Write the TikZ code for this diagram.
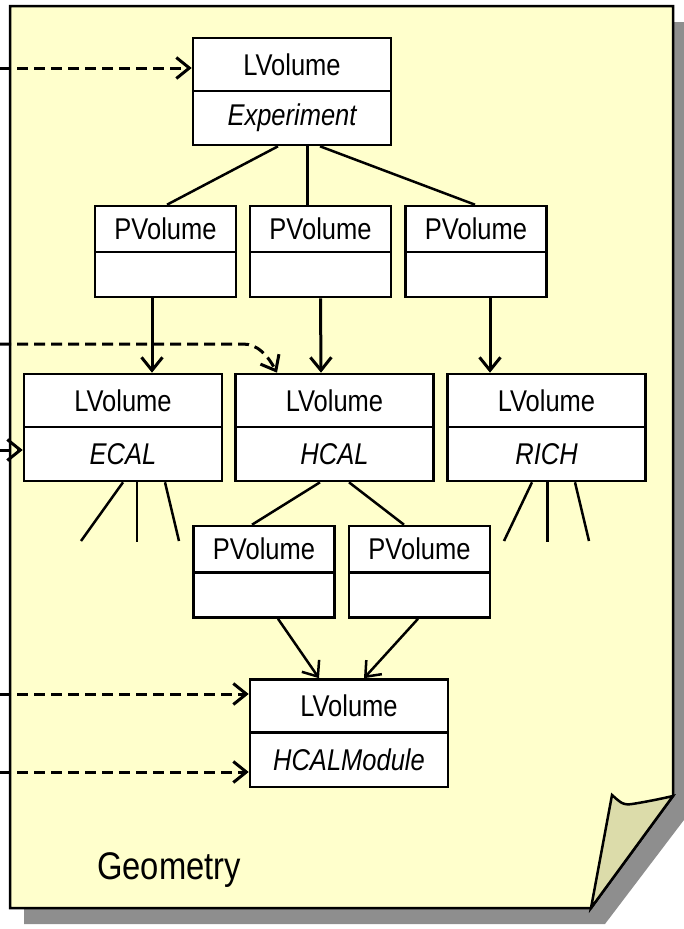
\documentclass[tikz,border=0pt]{standalone}
\usepackage{fontspec}
\setmainfont[FakeStretch=0.85]{Liberation Sans}
\usetikzlibrary{arrows.meta,calc}
\definecolor{paper}{HTML}{FFFFCC}
\definecolor{shadowgray}{HTML}{8E8E8E}
\definecolor{flapcol}{HTML}{DCDCAA}
\begin{document}
\begin{tikzpicture}[x=1pt,y=-1pt,
  cell/.style={draw=black,line width=2.6pt,fill=white,inner sep=0pt,minimum width=198pt,font=\fontsize{30}{34}\selectfont},
  lv/.style={cell,minimum height=53pt},
  lvb/.style={cell,minimum height=54pt,font=\fontsize{30}{34}\selectfont\itshape},
  pv/.style={cell,minimum width=141pt,minimum height=46pt},
  pvb/.style={cell,minimum width=141pt,minimum height=45pt},
  link/.style={line width=2.5pt},
  own/.style={line width=3pt,-{Straight Barb[length=13pt,width=21pt]}},
  refarrow/.style={line width=3pt,dash pattern=on 11pt off 6pt,-{Straight Barb[length=13pt,width=21pt]}},
  sheet/.style={fill=paper,draw=black,line width=2.5pt,line join=miter},
]
\useasboundingbox (0,0) rectangle (683,929);
% paper with shadow and folded corner
\fill[shadowgray] (24,22) -- (690,22) -- (690,812) -- (605,924) -- (24,924) -- cycle;
\path[sheet] (10,6) -- (673,6) -- (673,796) -- (591,908) -- (10,908) -- cycle;
\path[sheet,fill=flapcol] (591,908) -- (612,795) .. controls (618,800) and (622,806) .. (632,804)
   .. controls (645,802) and (660,799) .. (673,796) -- cycle;

% nodes
\node[lv] (exp) at (292,64.5) {LVolume};
\node[lvb] (expb) at (292,118) {Experiment};

\node[pv] (p1) at (165.5,229) {PVolume};
\node[pvb] (p1b) at (165.5,274.5) {};
\node[pv] (p2) at (320.5,229) {PVolume};
\node[pvb] (p2b) at (320.5,274.5) {};
\node[pv] (p3) at (476,229) {PVolume};
\node[pvb] (p3b) at (476,274.5) {};

\node[lv] (ecal) at (123,400.5) {LVolume};
\node[lvb] (ecalb) at (123,454) {ECAL};
\node[lv] (hcal) at (334.5,400.5) {LVolume};
\node[lvb] (hcalb) at (334.5,454) {HCAL};
\node[lv] (rich) at (546.5,400.5) {LVolume};
\node[lvb] (richb) at (546.5,454) {RICH};

\node[pv] (pa) at (264,549) {PVolume};
\node[pvb] (pab) at (264,595) {};
\node[pv] (pb) at (419.5,549) {PVolume};
\node[pvb] (pbb) at (419.5,595) {};

\node[lv] (mod) at (349,706) {LVolume};
\node[lvb] (modb) at (349,760) {HCALModule};

\node[anchor=base west,inner sep=0pt,font=\fontsize{38.5}{44}\selectfont] (geo) at (97,879) {Geometry};

% free ends
\coordinate (e1) at (81,541);
\coordinate (e2) at (137,542);
\coordinate (e3) at (179,541);
\coordinate (r1) at (504,541);
\coordinate (r2) at (547,542);
\coordinate (r3) at (589,541);
\coordinate (d1) at (0,68);
\coordinate (d2) at (0,344);
\coordinate (d2c) at (243,344);
\coordinate (d3) at (0,450);
\coordinate (d4) at (0,694);
\coordinate (d5) at (0,772);

% composition links
\draw[link] ([xshift=-14pt]expb.south) -- ([xshift=1.5pt]p1.north);
\draw[link,line width=3pt] ([xshift=15pt]expb.south) -- ([xshift=-13.5pt]p2.north);
\draw[link] ([xshift=28pt]expb.south) -- ([xshift=-1pt]p3.north);

\draw[own] ([xshift=-13.5pt]p1b.south) -- ([xshift=29pt]ecal.north);
\draw[own] (p2b.south) -- ([xshift=-13.5pt]hcal.north);
\draw[own] ([xshift=14pt]p3b.south) -- ([xshift=-56.5pt]rich.north);

\draw[link] ([xshift=-14.5pt]hcalb.south) -- ([xshift=-12pt]pa.north);
\draw[link] ([xshift=14.5pt]hcalb.south) -- ([xshift=-15.5pt]pb.north);

\draw[own,line width=2.5pt] ([xshift=14pt]pab.south) -- ([xshift=-30pt]mod.north);
\draw[own,line width=2.5pt] ([xshift=-1.5pt]pbb.south) -- ([xshift=15pt]mod.north);

\draw[link] ([xshift=0pt]ecalb.south) -- (e1);
\draw[link] ([xshift=14pt]ecalb.south) -- (e2);
\draw[link] ([xshift=42pt]ecalb.south) -- (e3);
\draw[link] ([xshift=-14.5pt]richb.south) -- (r1);
\draw[link,line width=3pt] ([xshift=0.5pt]richb.south) -- (r2);
\draw[link] ([xshift=28.5pt]richb.south) -- (r3);

% references
\draw[refarrow] (d1) -- (d1 -| exp.west);
\draw[refarrow] (d2) -- (d2c) .. controls (258,344) and (268,356) .. ([xshift=-57.5pt]hcal.north);
\draw[refarrow] (d3) -- (d3 -| ecal.west);
\draw[refarrow] (d4) -- (d4 -| mod.west);
\draw[refarrow] (d5) -- (d5 -| mod.west);
\end{tikzpicture}
\end{document}
